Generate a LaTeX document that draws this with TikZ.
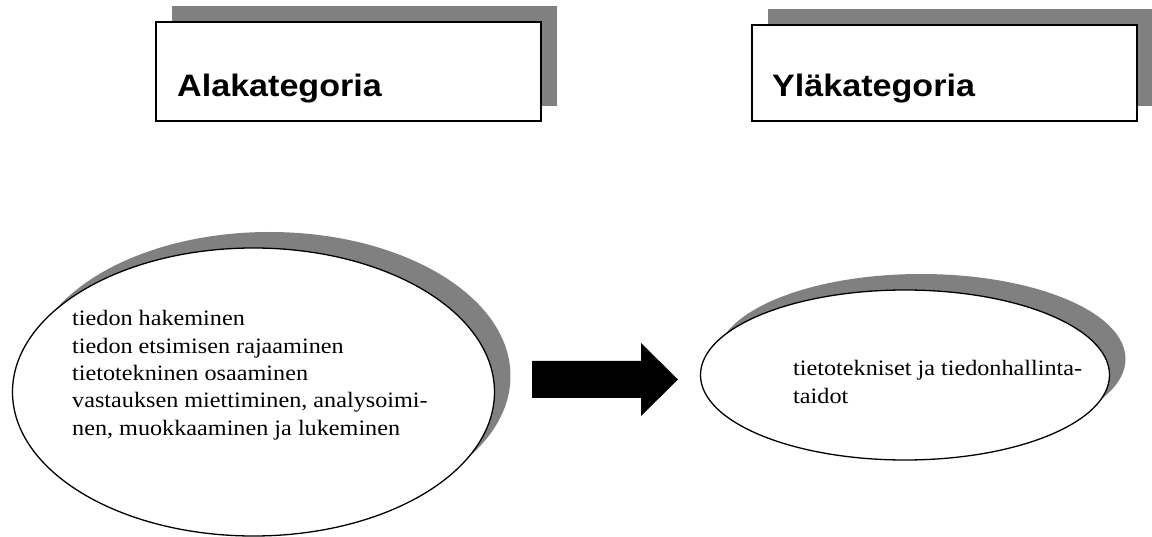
\documentclass[tikz,border=0pt]{standalone}
\usepackage{fontspec}
\usetikzlibrary{shapes.geometric}
\newfontfamily\serifx[FakeStretch=1.1]{Liberation Serif}
\newfontfamily\sansx[FakeStretch=1.1]{Liberation Sans}
\definecolor{shadowgray}{HTML}{808080}
\begin{document}
\begin{tikzpicture}[x=1pt,y=-1pt,
  shadowbox/.style={rectangle,fill=shadowgray,draw=none,inner sep=0},
  mainbox/.style={rectangle,fill=white,draw=black,line width=2pt,inner sep=0},
  shadowell/.style={ellipse,fill=shadowgray,draw=none,inner sep=0},
  mainell/.style={ellipse,fill=white,draw=black,line width=1.3pt,inner sep=0},
  heading/.style={font=\sansx\bfseries\fontsize{31}{36}\selectfont,anchor=base west,inner sep=0},
  bodytext/.style={font=\serifx\fontsize{22}{27.3}\selectfont,align=left,anchor=north west,inner sep=0}]
\useasboundingbox (0,0) rectangle (1152,537);
% boxes
\node[shadowbox,minimum width=385pt,minimum height=100pt] (sA) at (364.5,56) {};
\node[mainbox,minimum width=385pt,minimum height=99pt] (bA) at (348.5,71.5) {};
\node[heading] (tA) at (177,97) {Alakategoria};
\node[shadowbox,minimum width=385pt,minimum height=97pt] (sY) at (960,57.5) {};
\node[mainbox,minimum width=385pt,minimum height=96pt] (bY) at (944.5,73) {};
\node[heading] (tY) at (772,97) {Yläkategoria};
% ellipses
\node[shadowell,minimum width=482pt,minimum height=288pt] (seL) at (269.5,376) {};
\node[mainell,minimum width=482pt,minimum height=288pt] (eL) at (253.5,392) {};
\node[bodytext] (txL) at (72,310.5) {tiedon hakeminen\\tiedon etsimisen rajaaminen\\tietotekninen osaaminen\\vastauksen miettiminen, analysoimi-\\nen, muokkaaminen ja lukeminen};
\node[shadowell,minimum width=409pt,minimum height=170pt] (seR) at (921,359) {};
\node[mainell,minimum width=409pt,minimum height=170pt] (eR) at (905,375) {};
\node[bodytext] (txR) at (793,360.5) {tietotekniset ja tiedonhallinta-\\taidot};
% block arrow
\fill[black] (532,361) -- (641,361) -- (641,343) -- (678,379.5) -- (641,416) -- (641,398) -- (532,398) -- cycle;
\end{tikzpicture}
\end{document}
